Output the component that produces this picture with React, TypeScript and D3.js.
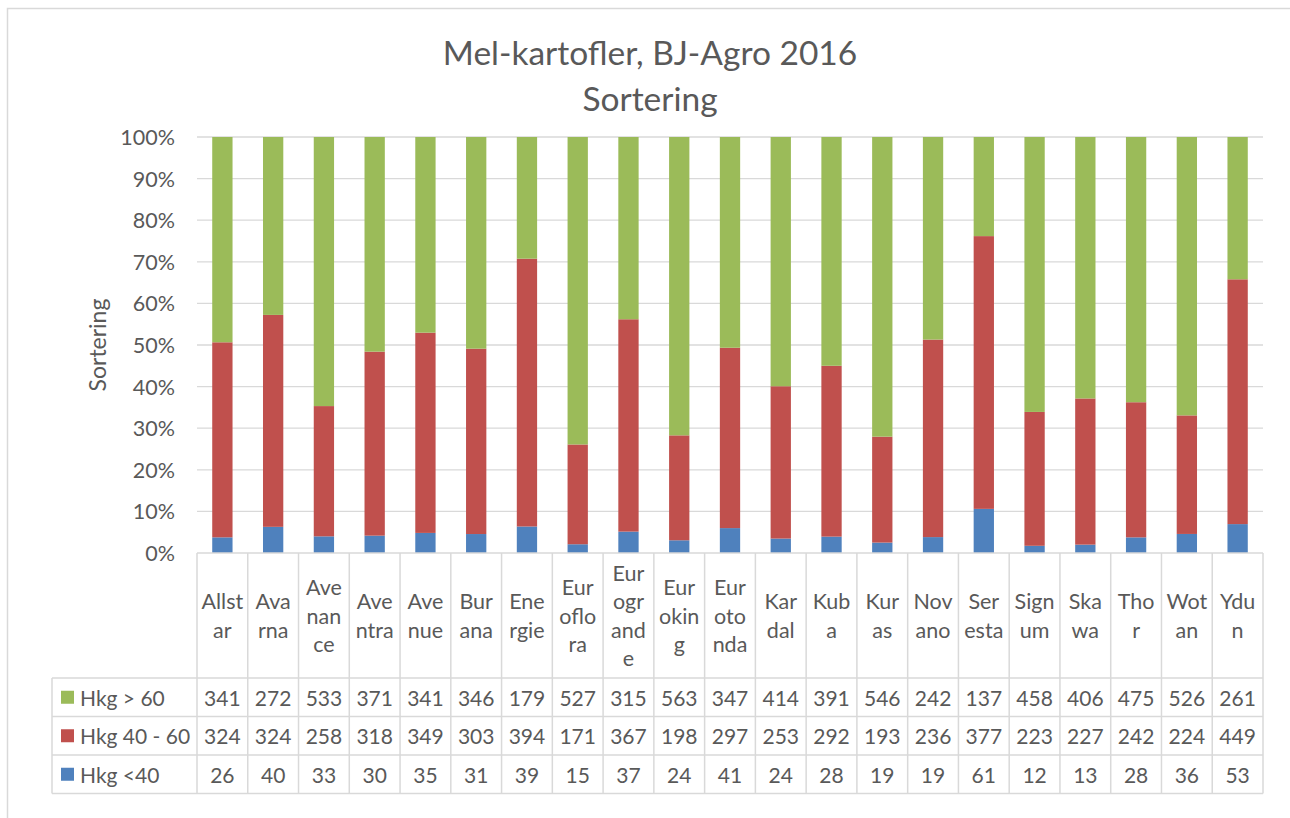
import React from "react";
import * as d3 from "d3";

// Mel-kartofler, BJ-Agro 2016 — sortering (hkg pr. sort)
const categories = [
  "Allstar", "Avarna", "Avenance", "Aventra", "Avenue", "Burana", "Energie",
  "Euroflora", "Eurogrande", "Euroking", "Eurotonda", "Kardal", "Kuba", "Kuras",
  "Novano", "Seresta", "Signum", "Skawa", "Thor", "Wotan", "Ydun",
];

// category labels as they wrap in the table header
const categoryLines = [
  ["Allst", "ar"], ["Ava", "rna"], ["Ave", "nan", "ce"], ["Ave", "ntra"],
  ["Ave", "nue"], ["Bur", "ana"], ["Ene", "rgie"], ["Eur", "oflo", "ra"],
  ["Eur", "ogr", "and", "e"], ["Eur", "okin", "g"], ["Eur", "oto", "nda"],
  ["Kar", "dal"], ["Kub", "a"], ["Kur", "as"], ["Nov", "ano"], ["Ser", "esta"],
  ["Sign", "um"], ["Ska", "wa"], ["Tho", "r"], ["Wot", "an"], ["Ydu", "n"],
];

const over60 = [341, 272, 533, 371, 341, 346, 179, 527, 315, 563, 347, 414, 391, 546, 242, 137, 458, 406, 475, 526, 261];
const mid40to60 = [324, 324, 258, 318, 349, 303, 394, 171, 367, 198, 297, 253, 292, 193, 236, 377, 223, 227, 242, 224, 449];
const under40 = [26, 40, 33, 30, 35, 31, 39, 15, 37, 24, 41, 24, 28, 19, 19, 61, 12, 13, 28, 36, 53];

const seriesKeys = ["under40", "mid", "over60"];
const seriesNames: Record<string, string> = {
  over60: "Hkg > 60",
  mid: "Hkg 40 - 60",
  under40: "Hkg <40",
};
const seriesColors: Record<string, string> = {
  over60: "#9BBB59",
  mid: "#C0504D",
  under40: "#4F81BD",
};
const seriesValues: Record<string, number[]> = { over60, mid: mid40to60, under40 };
// order of rows in the data table
const tableOrder = ["over60", "mid", "under40"];

const yTicks = [0, 0.1, 0.2, 0.3, 0.4, 0.5, 0.6, 0.7, 0.8, 0.9, 1];

const FONT = "Lato, 'Open Sans', sans-serif";
const TEXT = "#595959";
const LINE = "#d9d9d9";

export default function App() {
  const W = 1290;
  const H = 818;
  const plotLeft = 197;
  const plotRight = 1263;
  const plotTop = 137;
  const plotBottom = 553;
  const headerBottom = 678;
  const rowH = 38.5;
  const legendLeft = 52;

  const rows = categories.map((c, i) => ({
    cat: c,
    over60: over60[i],
    mid: mid40to60[i],
    under40: under40[i],
  }));

  const stacked = d3
    .stack<any>()
    .keys(seriesKeys)
    .offset(d3.stackOffsetExpand)(rows);

  const x = d3
    .scaleBand<string>()
    .domain(categories)
    .range([plotLeft, plotRight])
    .paddingInner(0.6)
    .paddingOuter(0.3);

  const col = d3.scaleBand<string>().domain(categories).range([plotLeft, plotRight]).padding(0);

  const y = d3.scaleLinear().domain([0, 1]).range([plotBottom, plotTop]);
  const pct = d3.format(".0%");

  const lineH = 28.5;
  const headerMid = (plotBottom + headerBottom) / 2;

  return (
    <svg
      width={W}
      height={H}
      style={{ position: "absolute", left: 0, top: 0, background: "#fff" }}
      fontFamily={FONT}
    >
      <rect x={7.5} y={8.5} width={1300} height={900} fill="#fff" stroke={LINE} strokeWidth={1.5} />

      {/* titel */}
      <text x={650} y={52} textAnchor="middle" dominantBaseline="central" fontSize={33.5} fill={TEXT}>
        Mel-kartofler, BJ-Agro 2016
      </text>
      <text x={650} y={98} textAnchor="middle" dominantBaseline="central" fontSize={33.5} fill={TEXT}>
        Sortering
      </text>

      {/* gitterlinjer + y-akse */}
      {yTicks.map((t) => (
        <g key={t}>
          {t > 0 && (
            <line x1={plotLeft} x2={plotRight} y1={y(t)} y2={y(t)} stroke={LINE} strokeWidth={1.3} />
          )}
          <text
            x={175}
            y={y(t)}
            textAnchor="end"
            dominantBaseline="central"
            fontSize={21.5}
            fill={TEXT}
          >
            {pct(t)}
          </text>
        </g>
      ))}
      <text
        transform={`translate(97, ${(plotTop + plotBottom) / 2}) rotate(-90)`}
        textAnchor="middle"
        dominantBaseline="central"
        fontSize={23}
        fill={TEXT}
      >
        Sortering
      </text>

      {/* søjler */}
      {stacked.map((s) => (
        <g key={s.key} fill={seriesColors[s.key]}>
          {s.map((d, i) => (
            <rect
              key={i}
              x={x(categories[i])}
              width={x.bandwidth()}
              y={y(d[1])}
              height={y(d[0]) - y(d[1])}
            />
          ))}
        </g>
      ))}

      {/* datatabel */}
      <g stroke={LINE} strokeWidth={1.5}>
        <line x1={plotLeft} x2={plotRight} y1={plotBottom} y2={plotBottom} />
        {[0, 1, 2, 3].map((r) => (
          <line
            key={r}
            x1={legendLeft}
            x2={plotRight}
            y1={headerBottom + r * rowH}
            y2={headerBottom + r * rowH}
          />
        ))}
        <line x1={legendLeft} x2={legendLeft} y1={headerBottom} y2={headerBottom + 3 * rowH} />
        {categories.map((c) => (
          <line
            key={c}
            x1={col(c)}
            x2={col(c)}
            y1={plotBottom}
            y2={headerBottom + 3 * rowH}
          />
        ))}
        <line x1={plotRight} x2={plotRight} y1={plotBottom} y2={headerBottom + 3 * rowH} />
      </g>

      {categories.map((c, i) => {
        const lines = categoryLines[i];
        const cx = (col(c) as number) + col.bandwidth() / 2;
        const start = headerMid - ((lines.length - 1) * lineH) / 2;
        return (
          <text key={c} textAnchor="middle" fontSize={21.5} fill={TEXT}>
            {lines.map((l, j) => (
              <tspan key={j} x={cx} y={start + j * lineH} dominantBaseline="central">
                {l}
              </tspan>
            ))}
          </text>
        );
      })}

      {tableOrder.map((k, r) => {
        const cy = headerBottom + r * rowH + rowH / 2;
        return (
          <g key={k}>
            <rect x={61} y={cy - 6.5} width={13} height={13} fill={seriesColors[k]} />
            <text x={80} y={cy} dominantBaseline="central" fontSize={21} fill={TEXT}>
              {seriesNames[k]}
            </text>
            {seriesValues[k].map((v, i) => (
              <text
                key={i}
                x={(col(categories[i]) as number) + col.bandwidth() / 2}
                y={cy}
                textAnchor="middle"
                dominantBaseline="central"
                fontSize={21}
                fill={TEXT}
              >
                {v}
              </text>
            ))}
          </g>
        );
      })}
    </svg>
  );
}
